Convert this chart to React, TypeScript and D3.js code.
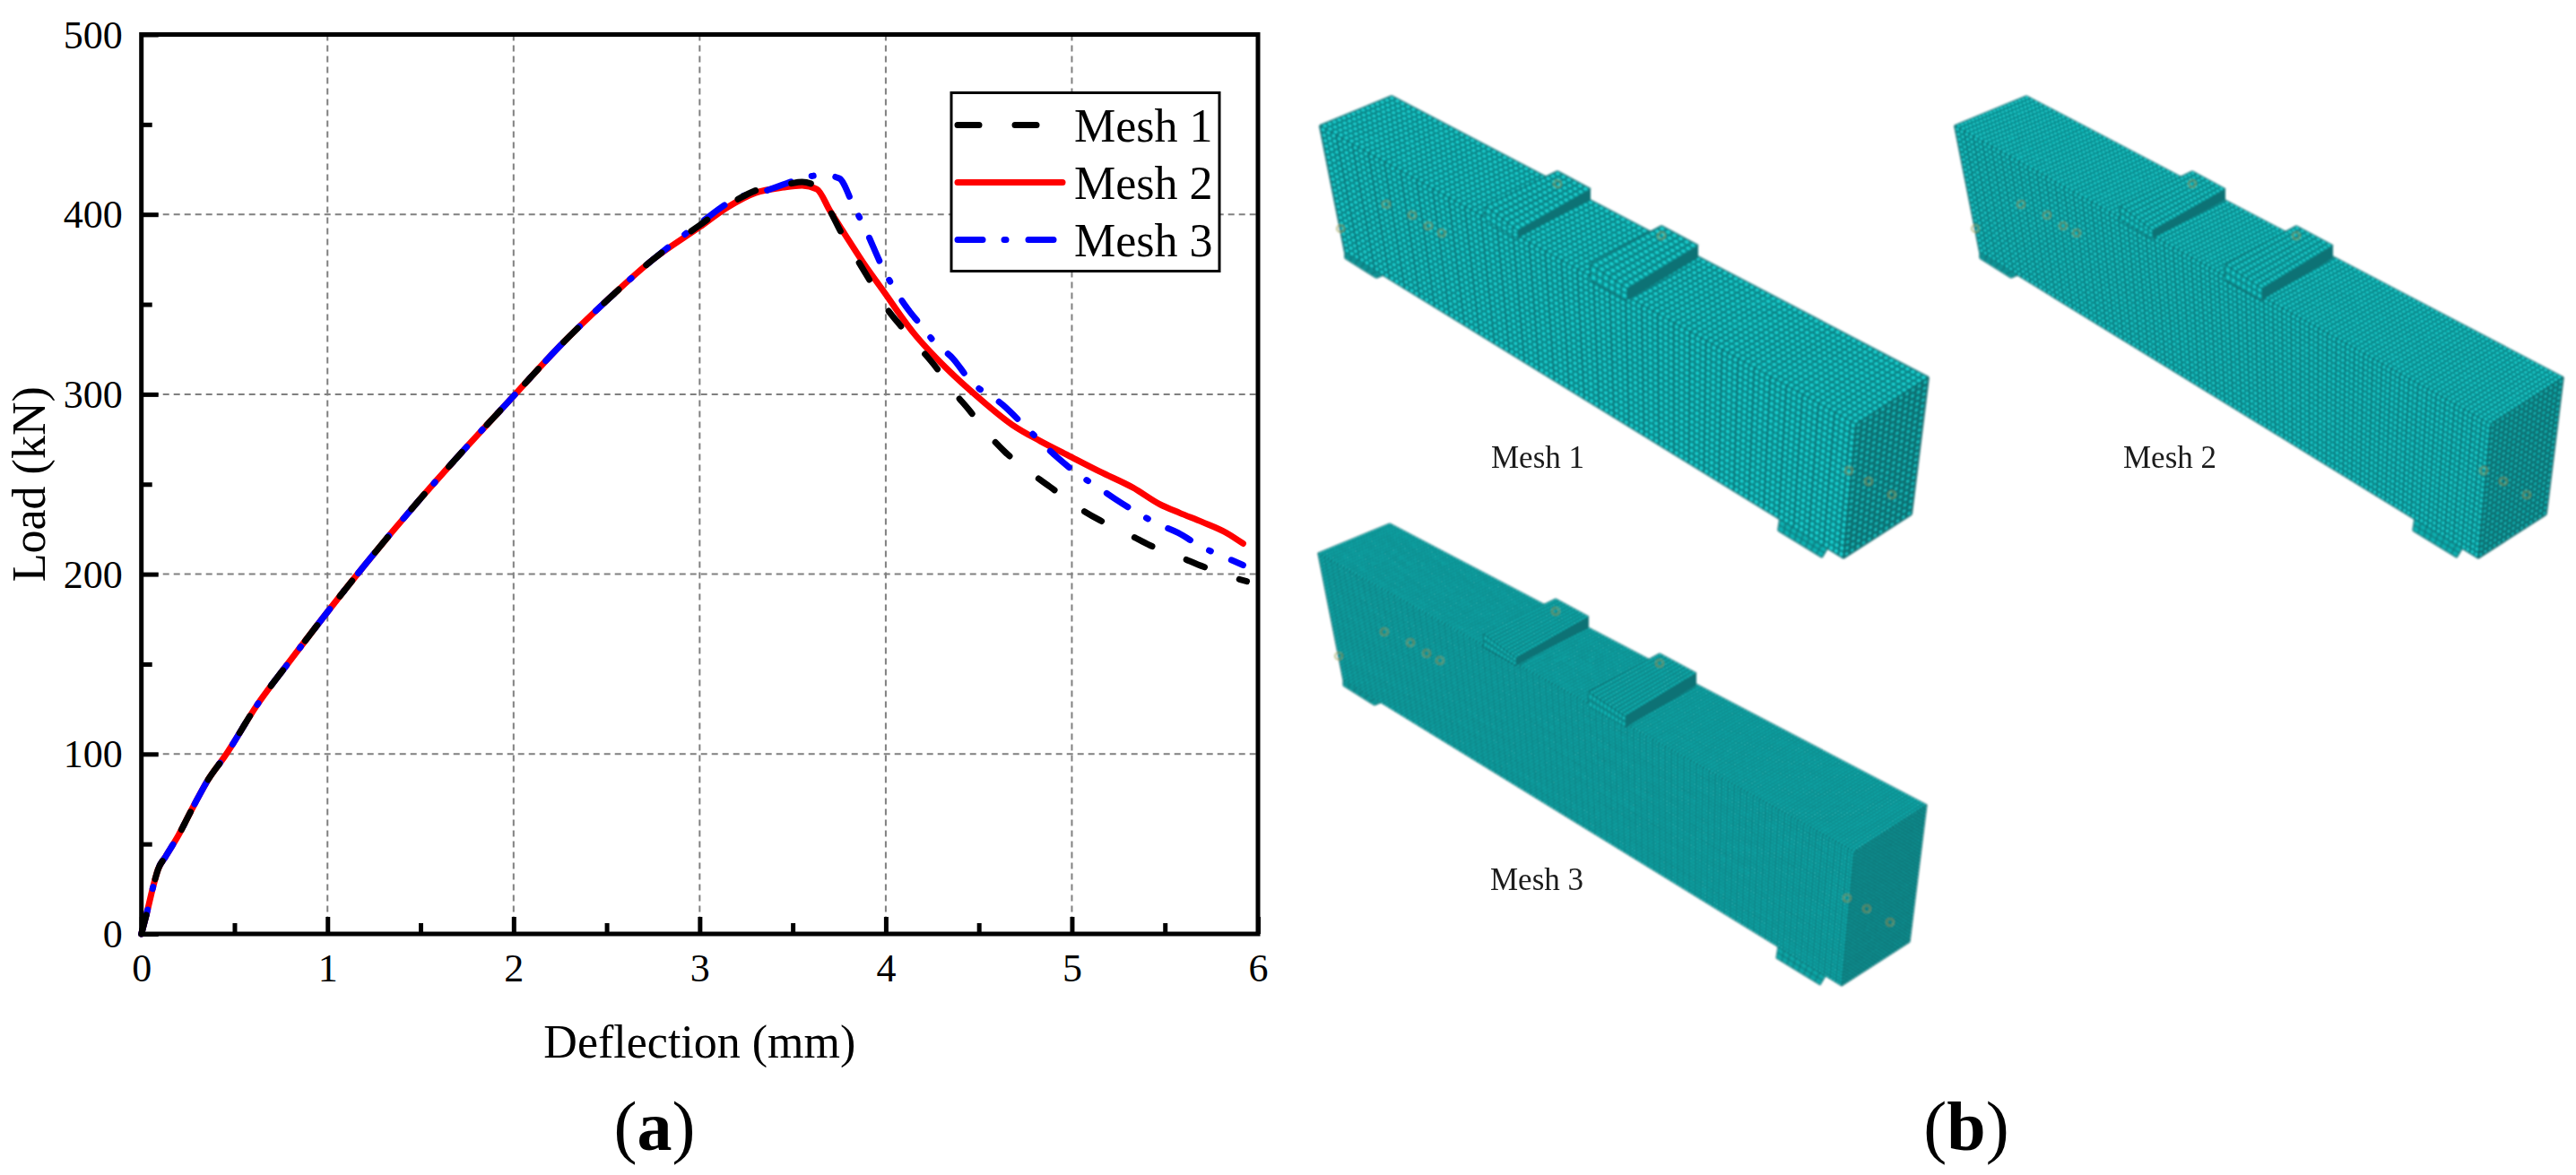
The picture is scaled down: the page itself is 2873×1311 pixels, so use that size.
import React, { useEffect, useRef } from "react";
import * as d3 from "d3";

// load-deflection curves, all three share the rising branch
const rising = [[0, 0], [0.03, 12], [0.06, 25], [0.09, 36], [0.13, 43], [0.2, 55], [0.28, 71], [0.36, 86], [0.45, 99], [0.62, 127], [0.8, 152], [1, 179], [1.2, 205], [1.5, 242], [1.75, 271], [2, 299], [2.25, 327], [2.5, 352], [2.75, 375]];
const mesh1Tail = [[3, 394], [3.15, 405], [3.32, 414], [3.48, 417], [3.55, 418], [3.6, 417], [3.7, 402], [3.76, 390], [3.84, 376], [3.91, 364], [3.99, 350], [4.08, 338], [4.18, 326], [4.27, 315], [4.36, 302], [4.45, 291], [4.54, 279], [4.64, 268], [4.77, 257], [4.89, 248], [5.02, 238], [5.15, 230], [5.29, 223], [5.42, 216], [5.57, 210], [5.71, 204], [5.87, 198], [5.94, 196]];
const mesh2Tail = [[3, 393], [3.15, 404], [3.3, 412], [3.45, 415], [3.55, 416], [3.63, 414], [3.7, 402], [3.78, 389], [3.88, 373], [3.99, 357], [4.15, 334], [4.33, 314], [4.5, 298], [4.68, 283], [4.83, 274], [4.98, 266], [5.15, 257], [5.33, 248], [5.47, 239], [5.58, 234], [5.7, 229], [5.83, 223], [5.92, 217]];
const mesh3Tail = [[3, 395], [3.2, 409], [3.35, 413], [3.55, 420], [3.66, 422], [3.75, 420], [3.83, 404], [3.88, 394], [3.99, 369], [4.1, 350], [4.2, 337], [4.27, 328], [4.36, 320], [4.45, 308], [4.63, 294], [4.75, 282], [4.91, 266], [5.04, 255], [5.13, 249], [5.23, 242], [5.37, 233], [5.46, 228], [5.57, 223], [5.7, 215], [5.81, 210], [5.92, 205]];

const seriesNames = ["Mesh 1", "Mesh 2", "Mesh 3"];
const seriesColors = ["#000000", "#ff0000", "#0000ff"];
const seriesDash = ["22 41", null, "28 24 2 25"];
const drawOrder = [1, 2, 0];

const xMajor = [0, 1, 2, 3, 4, 5, 6];
const xMinor = [0.5, 1.5, 2.5, 3.5, 4.5, 5.5];
const yMajor = [0, 100, 200, 300, 400, 500];
const yMinor = [50, 150, 250, 350, 450];

// beam drawing, outline points in the page frame of the first beam
const topFace = [[1552, 107], [2151, 421], [2070, 473], [1472, 140]];
const frontFace = [[1472, 140], [2070, 473], [2056, 623], [1500, 281]];
const endFace = [[2070, 473], [2151, 421], [2132, 574], [2056, 623]];
const supportLeft = [[1500, 281], [1542, 307], [1535, 310], [1500, 288]];
const supportRight = [[1985, 579], [2038, 612], [2032, 622], [1983, 592]];
const plateTops = [
    [[1737, 191], [1774, 211], [1693, 257], [1657, 230]],
    [[1853, 252], [1894, 274], [1815, 322], [1774, 295]],
];
const plateFronts = [
    [[1693, 257], [1774, 211], [1774, 223], [1693, 266]],
    [[1815, 322], [1894, 274], [1894, 288], [1815, 335]],
];
const plateSides = [
    [[1657, 230], [1693, 257], [1693, 266], [1657, 245]],
    [[1774, 295], [1815, 322], [1815, 335], [1774, 312]],
];
const markers = [[1495, 255], [1546, 228], [1575, 240], [1593, 252], [1608, 260], [1737, 205], [1853, 263], [2062, 525], [2084, 537], [2110, 552]];

const beams = [
    { label: "Mesh 1", dx: 0, dy: 0, labelX: 1663, labelY: 522, nLen: 100, nWide: 15, nHigh: 23, nEnd: 12, lw: 2, dot: 3.4, base: "#10b4b4", line: "#0a6f73", band: 3 },
    { label: "Mesh 2", dx: 708, dy: 0, labelX: 2368, labelY: 522, nLen: 118, nWide: 20, nHigh: 25, nEnd: 15, lw: 1.7, dot: 2.8, base: "#10b0b0", line: "#0a6f73", band: 2 },
    { label: "Mesh 3", dx: -2, dy: 477, labelX: 1662, labelY: 993, nLen: 170, nWide: 26, nHigh: 40, nEnd: 24, lw: 1.2, dot: 1.8, base: "#0fa6a6", line: "#08666a", band: 2 },
];

const W = 2873;
const H = 1311;
const plot = { left: 157.7, right: 1403, top: 38.5, bottom: 1042 };
const serif = "'Liberation Serif', 'Times New Roman', serif";
const bright = "#1de0e0";

function shift(pts, dx, dy) {
    return pts.map(p => [p[0] + dx, p[1] + dy]);
}

function pointOn(q, u, v) {
    const ax = q[0][0] + (q[1][0] - q[0][0]) * u, ay = q[0][1] + (q[1][1] - q[0][1]) * u;
    const bx = q[3][0] + (q[2][0] - q[3][0]) * u, by = q[3][1] + (q[2][1] - q[3][1]) * u;
    return [ax + (bx - ax) * v, ay + (by - ay) * v];
}

// bilinear grid lines across a four-corner face
function gridPath(q, nu, nv, every = 1) {
    const path = d3.path();
    for (let i = 0; i <= nu; i += every) {
        const a = pointOn(q, i / nu, 0), b = pointOn(q, i / nu, 1);
        path.moveTo(a[0], a[1]);
        path.lineTo(b[0], b[1]);
    }
    if (every === 1) {
        for (let j = 0; j <= nv; j++) {
            const a = pointOn(q, 0, j / nv), b = pointOn(q, 1, j / nv);
            path.moveTo(a[0], a[1]);
            path.lineTo(b[0], b[1]);
        }
    }
    return path.toString();
}

// bright centre of every cell, drawn as zero length round strokes
function dotPath(q, nu, nv) {
    let d = "";
    for (let i = 0; i < nu; i++) {
        for (let j = 0; j < nv; j++) {
            const p = pointOn(q, (i + 0.5) / nu, (j + 0.5) / nv);
            d += `M${p[0].toFixed(1)} ${p[1].toFixed(1)}h0`;
        }
    }
    return d;
}

const polygon = d3.line().curve(d3.curveLinearClosed);

function Face({ q, nu, nv, fill, line, lw, dot, band }) {
    return (
        <g>
            <path d={polygon(q)} fill={fill} />
            <path d={gridPath(q, nu, nv)} fill="none" stroke={line} strokeWidth={lw} strokeOpacity={0.8} />
            {dot ? <path d={dotPath(q, nu, nv)} fill="none" stroke={bright} strokeWidth={dot} strokeLinecap="round" strokeOpacity={0.85} /> : null}
            {band ? <path d={gridPath(q, nu, nv, band)} fill="none" stroke={line} strokeWidth={lw * 1.3} strokeOpacity={0.55} /> : null}
        </g>
    );
}

function Beam({ b }) {
    const s = pts => shift(pts, b.dx, b.dy);
    const plateLen = Math.round(b.nLen * 0.06);
    return (
        <g>
            <g filter="url(#soft)">
                <Face q={s(supportLeft)} nu={6} nv={2} fill={b.base} line={b.line} lw={b.lw} />
                <Face q={s(supportRight)} nu={8} nv={2} fill={b.base} line={b.line} lw={b.lw} />
                <Face q={s(frontFace)} nu={b.nLen} nv={b.nHigh} fill={b.base} line={b.line} lw={b.lw} dot={b.dot} band={b.band} />
                <Face q={s(topFace)} nu={b.nLen} nv={b.nWide} fill={b.base} line={b.line} lw={b.lw} dot={b.dot} />
                <Face q={s(endFace)} nu={b.nEnd} nv={b.nHigh} fill="#0f9494" line="#075c60" lw={b.lw} dot={b.dot * 0.7} />
                {plateSides.map((q, i) => (
                    <Face key={i} q={s(q)} nu={plateLen} nv={2} fill={b.base} line={b.line} lw={b.lw} dot={b.dot} />
                ))}
                {plateFronts.map((q, i) => (
                    <path key={i} d={polygon(s(q))} fill="#0a7275" />
                ))}
                {plateTops.map((q, i) => (
                    <Face key={i} q={s(q)} nu={plateLen} nv={b.nWide} fill={b.base} line={b.line} lw={b.lw} dot={b.dot} />
                ))}
                {s(markers).map((m, i) => (
                    <circle key={i} cx={m[0]} cy={m[1]} r={4} fill="none" stroke="#8f9a45" strokeWidth={1.2} />
                ))}
            </g>
            <text x={b.labelX} y={b.labelY} fontFamily={serif} fontSize={35} fill="#1a1a1a" filter="url(#softText)">{b.label}</text>
        </g>
    );
}

export default function App() {
    const axesRef = useRef(null);

    const x = d3.scaleLinear().domain([0, 6]).range([plot.left, plot.right]);
    const y = d3.scaleLinear().domain([0, 500]).range([plot.bottom, plot.top]);

    const curve = d3.line().x(d => x(d[0])).y(d => y(d[1])).curve(d3.curveMonotoneX);
    const series = [
        [...rising, ...mesh1Tail],
        [...rising, ...mesh2Tail],
        [...rising, ...mesh3Tail],
    ];

    useEffect(() => {
        const g = d3.select(axesRef.current);
        g.selectAll("*").remove();

        // major and minor ticks point inward
        const bottom = g.append("g").attr("transform", `translate(0,${plot.bottom})`)
            .call(d3.axisBottom(x).tickValues(xMajor).tickFormat(d3.format("d")).tickSizeInner(-19).tickSizeOuter(0));
        const left = g.append("g").attr("transform", `translate(${plot.left},0)`)
            .call(d3.axisLeft(y).tickValues(yMajor).tickFormat(d3.format("d")).tickSizeInner(-19).tickSizeOuter(0));
        g.append("g").attr("transform", `translate(0,${plot.bottom})`)
            .call(d3.axisBottom(x).tickValues(xMinor).tickFormat(() => "").tickSizeInner(-12).tickSizeOuter(0));
        g.append("g").attr("transform", `translate(${plot.left},0)`)
            .call(d3.axisLeft(y).tickValues(yMinor).tickFormat(() => "").tickSizeInner(-12).tickSizeOuter(0));

        g.selectAll(".domain").remove();
        g.selectAll(".tick line").attr("stroke", "#000").attr("stroke-width", 5);
        g.selectAll("text").attr("font-family", serif).attr("font-size", 44).attr("fill", "#000");
        bottom.selectAll("text").attr("y", 22).attr("dy", "0.71em");
        left.selectAll("text").attr("x", -21).attr("dy", "0.33em");
    }, []);

    return (
        <svg width={W} height={H} style={{ position: "absolute", left: 0, top: 0, background: "#fff" }}>
            <defs>
                <filter id="soft" x="-5%" y="-5%" width="110%" height="110%">
                    <feGaussianBlur stdDeviation="0.8" />
                </filter>
                <filter id="softText" x="-5%" y="-5%" width="110%" height="110%">
                    <feGaussianBlur stdDeviation="0.5" />
                </filter>
            </defs>

            {xMajor.slice(1, -1).map(d => (
                <line key={d} x1={x(d)} x2={x(d)} y1={plot.top} y2={plot.bottom} stroke="#808080" strokeWidth={2} strokeDasharray="7 5" />
            ))}
            {yMajor.slice(1, -1).map(d => (
                <line key={d} x1={plot.left} x2={plot.right} y1={y(d)} y2={y(d)} stroke="#808080" strokeWidth={2} strokeDasharray="7 5" />
            ))}

            {drawOrder.map(i => (
                <path key={i} d={curve(series[i])} fill="none" stroke={seriesColors[i]} strokeWidth={7}
                    strokeLinecap="round" strokeLinejoin="round" strokeDasharray={seriesDash[i] || undefined} />
            ))}

            <g ref={axesRef} />
            <rect x={plot.left} y={plot.top} width={plot.right - plot.left} height={plot.bottom - plot.top} fill="none" stroke="#000" strokeWidth={5} />

            <g>
                <rect x={1061} y={103.5} width={299} height={199} fill="#fff" stroke="#000" strokeWidth={3} />
                {seriesNames.map((name, i) => (
                    <g key={name} transform={`translate(0,${139.5 + i * 64})`}>
                        <line x1={1068} x2={1185} y1={0} y2={0} stroke={seriesColors[i]} strokeWidth={7} strokeLinecap="round" strokeDasharray={i === 0 ? "24 40" : seriesDash[i] || undefined} />
                        <text x={1198} y={18} fontFamily={serif} fontSize={52} fill="#000">{name}</text>
                    </g>
                ))}
            </g>

            <text x={(plot.left + plot.right) / 2} y={1180} textAnchor="middle" fontFamily={serif} fontSize={52}>Deflection (mm)</text>
            <text transform={`translate(50,${(plot.top + plot.bottom) / 2}) rotate(-90)`} textAnchor="middle" fontFamily={serif} fontSize={52}>Load (kN)</text>

            <text x={730} y={1283} textAnchor="middle" fontFamily={serif} fontSize={78}>(<tspan fontWeight="bold">a</tspan>)</text>
            <text x={2193} y={1283} textAnchor="middle" fontFamily={serif} fontSize={78}>(<tspan fontWeight="bold">b</tspan>)</text>

            {beams.map(b => <Beam key={b.label} b={b} />)}
        </svg>
    );
}
